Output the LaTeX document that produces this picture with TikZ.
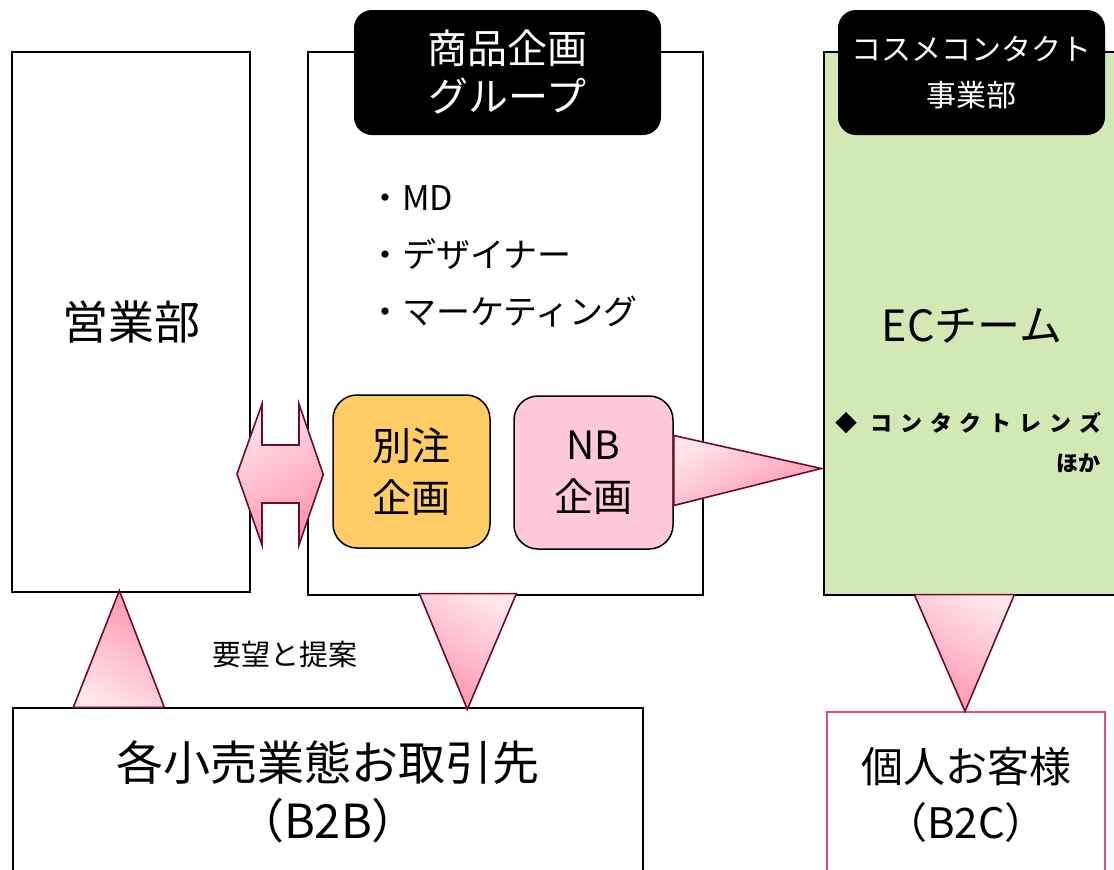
\documentclass[tikz,border=0pt]{standalone}
\usepackage{fontspec}
\setmainfont{Noto Sans CJK JP}
\newfontfamily\spacedfont{Noto Sans CJK JP}[LetterSpace=36]
\usetikzlibrary{calc}
\definecolor{arrowline}{RGB}{110,10,45}
\definecolor{pinklight}{RGB}{255,228,234}
\definecolor{pinkdark}{RGB}{255,150,175}
\definecolor{orangefill}{RGB}{255,204,102}
\definecolor{nbfill}{RGB}{255,200,220}
\definecolor{ecgreen}{RGB}{210,233,181}
\definecolor{custborder}{RGB}{218,80,130}
\tikzset{
  box/.style={draw=black, line width=1.3pt, fill=white, inner sep=0pt, align=center},
  label/.style={fill=black, rounded corners=18pt, text=white, align=center, inner sep=0pt, font=\fontsize{40}{48}\selectfont},
  plan/.style={draw=black, line width=1.5pt, rounded corners=24pt, align=center, inner sep=0pt, font=\fontsize{39}{52}\selectfont},
  arr/.style={draw=arrowline, line width=1.6pt, line join=miter, shading=axis, top color=pinklight, bottom color=pinkdark, shading angle=30},
}
\begin{document}
\begin{tikzpicture}[x=1pt,y=-1pt]
\useasboundingbox[fill=white] (0,0) rectangle (1114,870);
% main boxes
\node[box, minimum width=238, minimum height=540, font=\fontsize{46}{54}\selectfont] (eig) at (131,322) {営業部};
\node[box, minimum width=395, minimum height=543] (grp) at (505.5,323.5) {};
\node[box, fill=ecgreen, minimum width=320, minimum height=543] (ec) at (984,323.5) {};
\node[box, minimum width=630, minimum height=200] (b2b) at (328,808) {};
\node[box, draw=custborder, minimum width=278, minimum height=200] (b2c) at (966,812) {};
% labels
\node[label, minimum width=307, minimum height=125] (grplab) at (507.5,72.5) {商品企画\\グループ};
\node[label, minimum width=267, minimum height=125, font=\fontsize{30}{46}\selectfont] (eclab) at (971.5,72.5) {コスメコンタクト\\事業部};
% bullets
\node[anchor=west, font=\fontsize{34}{57}\selectfont, align=left, inner sep=0pt] (bul) at (368,256) {・MD\\・デザイナー\\・マーケティング};
% plan boxes
\node[plan, fill=orangefill, minimum width=157, minimum height=153] (betsu) at (411.5,471.5) {別注\\企画};
\node[plan, fill=nbfill, minimum width=159, minimum height=153] (nb) at (593.5,472.5) {NB\\企画};
% EC texts
\node[font=\fontsize{43}{50}\selectfont, inner sep=0pt] (ecteam) at (972,326) {ECチーム};
\node[anchor=west, font=\spacedfont\bfseries\fontsize{22}{26}\selectfont, inner sep=0pt] (lens) at (835,423) {◆ コンタクトレンズ};
\node[anchor=east, font=\bfseries\fontsize{22}{26}\selectfont, inner sep=0pt] (hoka) at (1101,463) {ほか};
% customer texts
\node[font=\fontsize{47}{58}\selectfont, align=center, inner sep=0pt] (b2btext) at (328,792) {各小売業態お取引先\\（B2B）};
\node[font=\fontsize{42}{56}\selectfont, align=center, inner sep=0pt] (b2ctext) at (966,795) {個人お客様\\（B2C）};
\node[font=\fontsize{29}{34}\selectfont, inner sep=0pt] (req) at (285,655) {要望と提案};
% arrows
\coordinate (dl) at (237,474);
\coordinate (dr) at ($(betsu.west)+(-9,3)$);
\path[arr] (dl) -- (262,404) -- (262,445) -- (299,445) -- (299,404) -- (dr) -- (299,545) -- (299,503) -- (262,503) -- (262,545) -- cycle;
\coordinate (ectip) at ($(ec.west)+(-2,145)$);
\path[arr] ($(nb.east)+(0,-37)$) -- (ectip) -- ($(nb.east)+(0,33)$) -- cycle;
\path[arr, shading angle=150] ($(b2b.north west)+(61,0)$) -- ($(eig.south west)+(108,-2)$) -- ($(b2b.north west)+(152,0)$) -- cycle;
\path[arr, shading angle=-30] ($(grp.south west)+(112,-2)$) -- ($(grp.south west)+(209,-2)$) -- ($(b2b.north west)+(455,2)$) -- cycle;
\path[arr, shading angle=-30] ($(ec.south west)+(91,-1)$) -- ($(ec.south west)+(191,-1)$) -- ($(b2c.north)+(-1,0)$) -- cycle;
\end{tikzpicture}
\end{document}
